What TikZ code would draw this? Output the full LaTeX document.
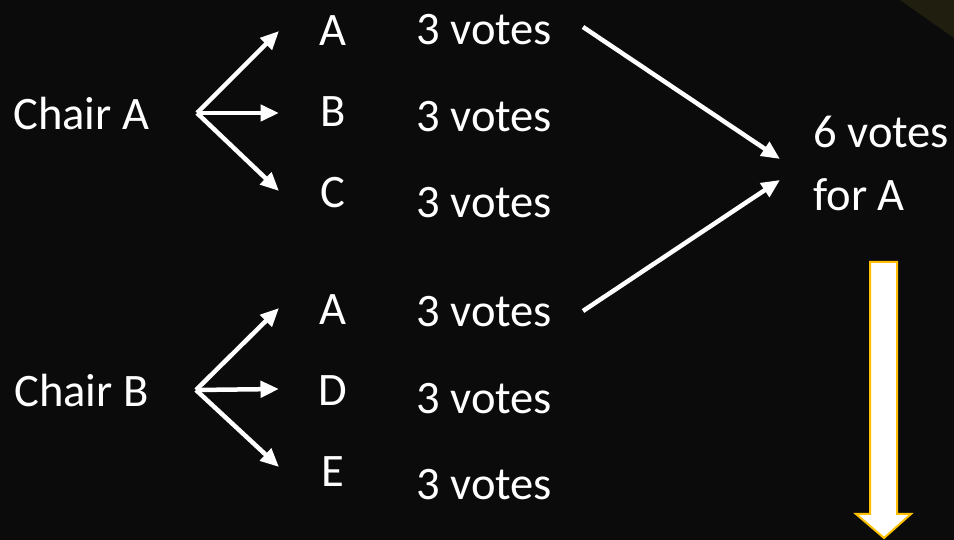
\documentclass[tikz,border=0pt]{standalone}
\usepackage{fontspec}
\setmainfont{Carlito}
\usepackage{tikz}
\usetikzlibrary{arrows.meta, positioning}
\definecolor{slide}{RGB}{11,11,11}
\definecolor{corner}{RGB}{32,30,14}
\definecolor{gold}{RGB}{255,192,0}
\tikzstyle{txt} = [text=white, font=\fontsize{26.5}{32}\selectfont, text height=16.7pt, text depth=0pt, inner sep=0pt]
\tikzstyle{votes} = [txt, node distance=1.73cm]
\tikzstyle{arrow} = [white, line width=0.09cm, -{Triangle[length=0.37cm, width=0.32cm]}]
\tikzstyle{blockarrow} = [fill=white, draw=gold, line width=0.04cm]
\begin{document}
\begin{tikzpicture}[x=0.02cm, y=-0.02cm, node distance=1.62cm]
		\useasboundingbox (0,0) rectangle (954,540);
		\fill[slide] (0,0) rectangle (954,540);
		\fill[corner] (900,0) -- (954,0) -- (954,38) -- cycle;
		% first chair
		\node (ca) [txt, anchor=west] at (13,115) {Chair A};
		\node (a1) [txt] at (333,31) {A};
		\node (b1) [txt, below of=a1] {B};
		\node (c1) [txt, below of=b1] {C};
		\node (v1) [votes, anchor=west] at (416,30) {3 votes};
		\node (v2) [votes, below of=v1] {3 votes};
		\node (v3) [votes, below of=v2] {3 votes};
		\coordinate (fa) at (197,113);
		\coordinate (ta1) at (279,31);
		\coordinate (tb1) at (279,113);
		\coordinate (tc1) at (279,191);
		\draw [arrow] (fa) -- (ta1);
		\draw [arrow] (fa) -- (tb1);
		\draw [arrow] (fa) -- (tc1);
		% second chair
		\node (cb) [txt, anchor=west] at (14,392) {Chair B};
		\node (a2) [txt] at (333,310) {A};
		\node (d2) [txt, below of=a2] {D};
		\node (e2) [txt, below of=d2] {E};
		\node (v4) [votes, anchor=west] at (416,312) {3 votes};
		\node (v5) [votes, below of=v4] {3 votes};
		\node (v6) [votes, below of=v5] {3 votes};
		\coordinate (fb) at (196,390);
		\coordinate (ta2) at (279,308);
		\coordinate (td2) at (279,389);
		\coordinate (te2) at (279,467);
		\draw [arrow] (fb) -- (ta2);
		\draw [arrow] (fb) -- (td2);
		\draw [arrow] (fb) -- (te2);
		% result
		\node (six) [txt, anchor=west] at (813,133) {6 votes};
		\node (fora) [txt, below=1.26cm of six.west, anchor=west] {for A};
		\coordinate (s1) at (583,27);
		\coordinate (s4) at (583,311);
		\coordinate (m1) at (780,159);
		\coordinate (m2) at (780,180);
		\draw [arrow] (s1) -- (m1);
		\draw [arrow] (s4) -- (m2);
		\draw [blockarrow] (870,262) -- (897,262) -- (897,514) -- (911,514) -- (884,538) -- (856,514) -- (870,514) -- cycle;
\end{tikzpicture}
\end{document}
